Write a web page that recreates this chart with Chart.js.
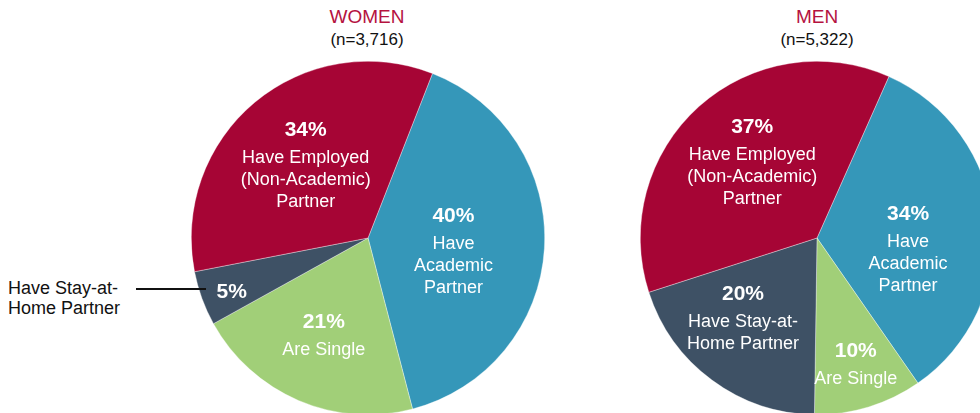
<!DOCTYPE html>
<html><head><meta charset="utf-8">
<script src="https://cdn.jsdelivr.net/npm/chart.js@4"></script>
<style>
html,body{margin:0;padding:0;width:980px;height:413px;overflow:hidden;background:#fff;font-family:"Liberation Sans",Arial,sans-serif;}
.box{position:absolute;}
.t{position:absolute;text-align:center;width:200px;}
.t1{color:#b5123f;font-size:19px;}
.t2{color:#111;font-size:17px;}
#callout{position:absolute;left:8px;top:278px;font-size:18px;line-height:20px;color:#111;}
#cline{position:absolute;left:136px;top:288px;width:70px;height:2px;background:#111;z-index:5;}
</style></head><body>
<div class="t t1" style="left:267px;top:6px;">WOMEN</div>
<div class="t t2" style="left:267px;top:30px;">(n=3,716)</div>
<div class="t t1" style="left:717px;top:6px;">MEN</div>
<div class="t t2" style="left:717px;top:30px;">(n=5,322)</div>
<div id="callout">Have Stay-at-<br>Home Partner</div>
<div class="box" style="left:191px;top:61px;width:354px;height:354px;"><canvas id="cw"></canvas></div>
<div class="box" style="left:640px;top:61px;width:354px;height:354px;"><canvas id="cm"></canvas></div>
<div id="cline"></div>
<script>
const categories = ["Have Academic Partner","Are Single","Have Stay-at-Home Partner","Have Employed (Non-Academic) Partner"];
const womenValues = [40, 21, 5, 34];
const menValues = [34, 10, 20, 37];
const womenLabels = [["Have","Academic","Partner"],["Are Single"],[],["Have Employed","(Non-Academic)","Partner"]];
const menLabels = [["Have","Academic","Partner"],["Are Single"],["Have Stay-at-","Home Partner"],["Have Employed","(Non-Academic)","Partner"]];
const colors = ["#3597b9","#a1cf78","#3e5165","#a60535"];

// label layout: [angle shift (deg) from slice middle, radius fraction]
const womenLayout = [[6,0.49],[1,0.61],[-1.6,0.83],[-1,0.54]];
const menLayout = [[13,0.52],[0,0.75],[6,0.62],[1,0.56]];

const labelPlugin = {
  id:'sliceLabels',
  afterDatasetsDraw(chart, args, opts){
    const ctx = chart.ctx;
    const meta = chart.getDatasetMeta(0);
    const vals = chart.data.datasets[0].data;
    meta.data.forEach((arc,i)=>{
      const p = arc.getProps(['x','y','startAngle','endAngle','outerRadius'],true);
      const lay = opts.layout[i];
      const a = (p.startAngle+p.endAngle)/2 + lay[0]*Math.PI/180;
      const r = p.outerRadius*lay[1];
      const cx = p.x + Math.cos(a)*r, cy = p.y + Math.sin(a)*r;
      const lines = opts.texts[i];
      const blockH = lines.length ? 28 + (lines.length-1)*22 : 0;
      let y = cy - blockH/2;
      ctx.save();
      ctx.fillStyle = '#fff';
      ctx.textAlign = 'center';
      ctx.textBaseline = 'middle';
      ctx.font = 'bold 21px "Liberation Sans", Arial, sans-serif';
      ctx.fillText(vals[i] + '%', cx, y);
      ctx.font = '18px "Liberation Sans", Arial, sans-serif';
      y += 28;
      lines.forEach(l=>{ ctx.fillText(l, cx, y); y += 22; });
      ctx.restore();
    });
  }
};

function makePie(id, values, texts, layout, rot){
  new Chart(document.getElementById(id), {
    type:'pie',
    data:{labels:categories, datasets:[{data:values, backgroundColor:colors, borderColor:'rgba(255,255,255,0.6)', borderWidth:0.6}]},
    options:{
      responsive:true, maintainAspectRatio:false, animation:false,
      rotation:rot,
      layout:{padding:0},
      plugins:{legend:{display:false}, tooltip:{enabled:false}, sliceLabels:{texts:texts, layout:layout}}
    },
    plugins:[labelPlugin]
  });
}
makePie('cw', womenValues, womenLabels, womenLayout, 21.4);
makePie('cm', menValues, menLabels, menLayout, 24);
</script>
</body></html>
